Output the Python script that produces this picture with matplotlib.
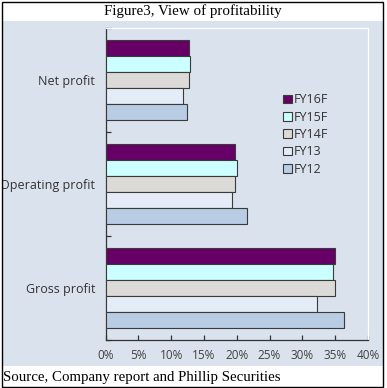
import matplotlib
matplotlib.use("Agg")
import matplotlib.pyplot as plt
from matplotlib.patches import Rectangle
import numpy as np

categories = ["Gross profit", "Operating profit", "Net profit"]
series = ["FY16F", "FY15F", "FY14F", "FY13", "FY12"]
values = {
    "FY16F": [35.0, 19.7, 12.7],
    "FY15F": [34.6, 20.0, 12.9],
    "FY14F": [34.9, 19.8, 12.7],
    "FY13":  [32.3, 19.2, 11.8],
    "FY12":  [36.3, 21.5, 12.4],
}
colors = ["#660066", "#ccffff", "#dcdad6", "#e4ecf7", "#b8cce4"]
xticks = [0, 5, 10, 15, 20, 25, 30, 35, 40]

W, H = 387, 388
fig = plt.figure(figsize=(W / 100, H / 100), dpi=100)
fig.patch.set_facecolor("white")

panel_col = "#dae2ed"
fig.patches.append(Rectangle((2 / W, (H - 366) / H), 381 / W, 345 / H,
                             transform=fig.transFigure, facecolor=panel_col,
                             edgecolor="none", zorder=-5))

ax = fig.add_axes([105.5 / W, (H - 340) / H, (368 - 105.5) / W, (340 - 28) / H])
ax.set_facecolor(panel_col)

bh = 0.154
ycent = np.arange(len(categories)) + 0.5
handles = []
for i, (s, c) in enumerate(zip(series, colors)):
    off = (2 - i) * bh
    b = ax.barh(ycent + off, values[s], height=bh, color=c,
                edgecolor="#3a3a3a", linewidth=0.8, label=s, zorder=3)
    handles.append(b)

ax.set_xlim(0, 40)
ax.set_ylim(0, 3)
ax.set_xticks(xticks)
ax.set_xticklabels([f"{v}%" for v in xticks])
ax.set_yticks([0, 1, 2, 3])
ax.set_yticklabels([])
ax.set_yticks(ycent, minor=True)
ax.set_yticklabels(categories, minor=True)
ax.tick_params(axis="y", which="major", direction="in", length=3.5, width=0.9, color="#333333")
ax.tick_params(axis="y", which="minor", length=0, pad=7.5, labelsize=9, labelcolor="#333333")
ax.tick_params(axis="x", which="major", direction="in", length=3.5, width=0.9, color="#333333",
               pad=6.5, labelsize=8.5, labelcolor="#404040")
for lab in ax.get_xticklabels() + ax.get_yticklabels(minor=True):
    lab.set_fontfamily("Open Sans")

for sp in ["left", "bottom"]:
    ax.spines[sp].set_color("#333333")
    ax.spines[sp].set_linewidth(0.9)
for sp in ["top", "right"]:
    ax.spines[sp].set_color("white")
    ax.spines[sp].set_linewidth(0.9)

leg = ax.legend(handles=handles, labels=series, loc="upper left",
                bbox_to_anchor=((277 - 105.5) / (368 - 105.5), 1 - (87 - 28) / (340 - 28)),
                frameon=False, handlelength=0.7, handleheight=0.7,
                handletextpad=0.15, labelspacing=0.35, borderpad=0,
                prop={"family": "Open Sans", "size": 9})
for t in leg.get_texts():
    t.set_color("#333333")

fig.text(193 / W, (H - 11) / H, "Figure3, View of profitability", ha="center", va="center",
         fontsize=10.8, family="Liberation Serif", color="black")
fig.text(3.5 / W, (H - 377) / H, "Source, Company report and Phillip Securities", ha="left", va="center",
         fontsize=10.7, family="Liberation Serif", color="black")

fig.patches.append(Rectangle((0, 0), 2.5 / W, 1, transform=fig.transFigure,
                             facecolor="white", edgecolor="none", zorder=20))
fig.patches.append(Rectangle((2 / W, 1 / H), 381 / W, 385.5 / H, transform=fig.transFigure,
                             facecolor="none", edgecolor="black", linewidth=1.0, zorder=21))

fig.savefig("out.png", dpi=100)
